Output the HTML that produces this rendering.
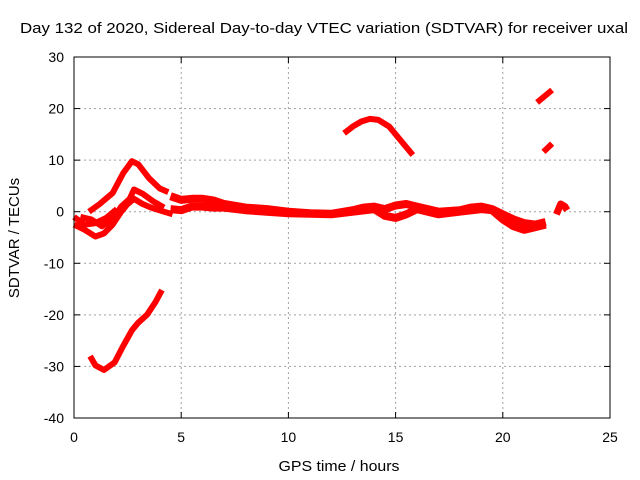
<!DOCTYPE html>
<html><head><meta charset="utf-8"><style>
body{margin:0;background:#fff}
svg{display:block;font-family:"Liberation Sans",sans-serif}
</style></head><body>
<svg id="chart" width="640" height="480">
<text x="20" y="33" font-size="15" textLength="608" lengthAdjust="spacingAndGlyphs">Day 132 of 2020, Sidereal Day-to-day VTEC variation (SDTVAR) for receiver uxal</text>
<text x="339" y="471" font-size="15" textLength="121" lengthAdjust="spacingAndGlyphs" text-anchor="middle">GPS time / hours</text>
<text transform="translate(19,238) rotate(-90)" font-size="15" text-anchor="middle">SDTVAR / TECUs</text>
<g id="grid"></g><g id="ticks"></g><g id="series"></g>
<rect x="74" y="57" width="536" height="361" fill="none" stroke="#000" stroke-width="1"/>
</svg>
<script>
const xTicks=[0,5,10,15,20,25];
const yTicks=[30,20,10,0,-10,-20,-30,-40];
const seriesUpperHumpX=[0.7,1.2,1.8,2.3,2.7,3.0,3.5,4.0,4.4];
const seriesUpperHumpY=[0,1.5,3.6,7.5,9.8,9.2,6.5,4.5,3.8];
const seriesLowerHumpX=[0,0.5,1.0,1.4,1.8,2.2,2.5,2.8,3.2,3.6,4.2,4.6];
const seriesLowerHumpY=[-2.5,-3.5,-4.8,-4.2,-2.5,0,1.5,2.5,1.5,0.8,0,-0.5];
const seriesSecondHumpX=[0.3,0.8,1.3,1.8,2.2,2.6,2.8,3.2,3.7,4.2];
const seriesSecondHumpY=[-1.0,-1.5,-2.8,-1.5,1.0,2.5,4.3,3.5,2.0,0.8];
const seriesLeftX=[0,0.5,1.0,1.5,2.0];
const seriesLeftY=[-1.0,-2.5,-2.2,-1.2,0.5];
const seriesDipX=[0.75,1.0,1.4,1.9,2.3,2.7,3.0,3.4,3.8,4.1];
const seriesDipY=[-28,-29.8,-30.7,-29.2,-26,-23,-21.5,-20,-17.5,-15.2];
const seriesMainX=[4.5,5,5.5,6,6.5,7,8,9,10,11,12,13,13.5,14,14.5,15,15.5,16,17,18,18.5,19,19.5,20,20.5,21,21.5,22];
const seriesMainY=[3,2.3,2.5,2.5,2.2,1.5,0.8,0.5,0,-0.3,-0.4,0.3,0.8,1.0,0.5,1.2,1.5,1.0,0,0.3,0.8,1.0,0.5,-0.5,-1.5,-2.2,-2.5,-2.0];
const seriesMain2X=[4.5,5,5.5,6,6.5,7,8,10,12,14,14.5,15,15.5,16,17,18,19,19.5,20,20.5,21,21.5,22];
const seriesMain2Y=[0.5,0.3,1.0,1.0,0.8,0.8,0.3,-0.3,-0.5,0.5,-0.8,-1.2,-0.5,0.5,-0.5,0,0.5,0.3,-1.5,-2.8,-3.5,-3.0,-2.5];
const seriesArcX=[12.6,13.0,13.4,13.8,14.2,14.7,15.2,15.8];
const seriesArcY=[15.2,16.5,17.5,18.0,17.8,16.5,14.0,11.0];
const seriesTopX=[21.6,22.3];
const seriesTopY=[21.2,23.6];
const seriesMidX=[21.9,22.3];
const seriesMidY=[11.6,13.2];
const seriesEndX=[22.5,22.7,22.9,23.0];
const seriesEndY=[-0.5,1.5,1.0,0.3];

const NS="http://www.w3.org/2000/svg";
const X0=74,X1=610,Y0=418,Y1=57;
const sx=v=>X0+(v-0)/(25-0)*(X1-X0);
const sy=v=>Y0-(v+40)/(70)*(Y0-Y1);
const grid=document.getElementById('grid'),ticks=document.getElementById('ticks'),ser=document.getElementById('series');
function mk(tag,attrs,parent){const e=document.createElementNS(NS,tag);for(const k in attrs)e.setAttribute(k,attrs[k]);parent.appendChild(e);return e;}
xTicks.forEach(t=>{
  const x=sx(t);
  if(t>0&&t<25){const g=mk('line',{x1:x,x2:x,y1:Y1,y2:Y0,stroke:'#a0a0a0','stroke-dasharray':'2,3'},grid);
  
  }
  mk('line',{x1:x,x2:x,y1:Y0,y2:Y0-6,stroke:'#000'},ticks);
  mk('line',{x1:x,x2:x,y1:Y1,y2:Y1+6,stroke:'#000'},ticks);
  const l=mk('text',{x:x,y:Y0+24,'font-size':'14','text-anchor':'middle'},ticks);
  l.textContent=t;
  
  
});
yTicks.forEach(t=>{
  const y=sy(t);
  if(t<30&&t>-40){const g=mk('line',{x1:X0,x2:X1,y1:y,y2:y,stroke:'#a0a0a0','stroke-dasharray':'2,3'},grid);
  
  }
  mk('line',{x1:X0,x2:X0+6,y1:y,y2:y,stroke:'#000'},ticks);
  mk('line',{x1:X1,x2:X1-6,y1:y,y2:y,stroke:'#000'},ticks);
  const l=mk('text',{x:X0-10,y:y+5,'font-size':'14','text-anchor':'end'},ticks);
  l.textContent=t;
  
  
});
const all=[[seriesUpperHumpX,seriesUpperHumpY,'upper-hump',6],[seriesLowerHumpX,seriesLowerHumpY,'lower-hump',6],[seriesSecondHumpX,seriesSecondHumpY,'second-hump',6],[seriesLeftX,seriesLeftY,'left-strand',6],[seriesDipX,seriesDipY,'dip-trace',6],[seriesMainX,seriesMainY,'main-trace',8],[seriesMain2X,seriesMain2Y,'main-trace-2',8],[seriesArcX,seriesArcY,'arc-trace',6],[seriesTopX,seriesTopY,'top-segment',6],[seriesMidX,seriesMidY,'mid-segment',6],[seriesEndX,seriesEndY,'end-segment',7]];
all.forEach(([xs,ys,n,w])=>{
  const pts=xs.map((v,i)=>sx(v).toFixed(1)+','+sy(ys[i]).toFixed(1)).join(' ');
  const p=mk('polyline',{points:pts,fill:'none',stroke:'#ff0000','stroke-width':w,'stroke-linejoin':'round'},ser);
  
  
});
</script>
</body></html>
